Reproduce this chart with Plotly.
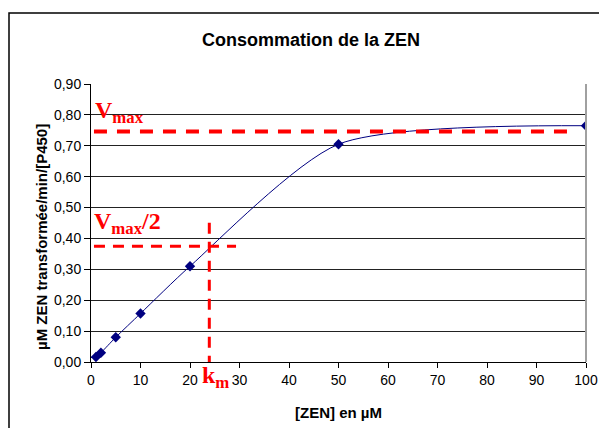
import plotly.graph_objects as go

# Data
zen_conc = [1, 2, 5, 10, 20, 50, 100]
rate = [0.016, 0.030, 0.080, 0.157, 0.310, 0.705, 0.765]

vmax = 0.746
vmax_half = 0.375
km = 23.9
vmax_x = [0.6, 97.6]
half_x = [0.6, 29.3]
km_y = [0.0, 0.451]

y_ticks = [0, 0.1, 0.2, 0.3, 0.4, 0.5, 0.6, 0.7, 0.8, 0.9]
x_ticks = [0, 10, 20, 30, 40, 50, 60, 70, 80, 90, 100]

W, H = 599, 428
L, R, T, B = 91, 13, 84, 66
pw, ph = W - L - R, H - T - B

def px(xp):
    return (xp - L) / pw

def py(yp):
    return (H - B - yp) / ph

fig = go.Figure()
fig.add_trace(go.Scatter(
    x=zen_conc, y=rate, mode="lines+markers",
    line=dict(color="#000080", width=1, shape="spline", smoothing=0.7),
    marker=dict(symbol="diamond", size=8, color="#000080"),
    showlegend=False, hoverinfo="skip"))

red = "#FF0000"
shapes = [
    dict(type="line", xref="x", yref="y", x0=vmax_x[0], x1=vmax_x[1], y0=vmax, y1=vmax,
         line=dict(color=red, width=4, dash="13px,10px")),
    dict(type="line", xref="x", yref="y", x0=half_x[0], x1=half_x[1], y0=vmax_half, y1=vmax_half,
         line=dict(color=red, width=3, dash="11px,8px")),
    dict(type="line", xref="x", yref="y", x0=km, x1=km, y0=km_y[1], y1=km_y[0],
         line=dict(color=red, width=3, dash="11px,8px")),
    # outer chart frame
    dict(type="rect", xref="paper", yref="paper", x0=px(9), x1=px(640), y0=py(470), y1=py(13),
         line=dict(color="black", width=1.5), fillcolor="rgba(0,0,0,0)", layer="below"),
]

serif = "Liberation Serif"
annotations = [
    dict(text="<b>V<sub>max</sub></b>", x=px(93), y=py(95), xref="paper", yref="paper",
         xanchor="left", yanchor="top", showarrow=False,
         font=dict(family=serif, size=24, color=red)),
    dict(text="<b>V<sub>max</sub>/2</b>", x=px(92), y=py(206), xref="paper", yref="paper",
         xanchor="left", yanchor="top", showarrow=False,
         font=dict(family=serif, size=24, color=red)),
    dict(text="<b>k<sub>m</sub></b>", x=px(200), y=py(360), xref="paper", yref="paper",
         xanchor="left", yanchor="top", showarrow=False,
         font=dict(family=serif, size=24, color=red)),
    dict(text="<b>µM ZEN transformée/min/[P450]</b>", x=px(41), y=py(237), xref="paper", yref="paper",
         xanchor="center", yanchor="middle", textangle=-90, showarrow=False,
         font=dict(size=15, color="black")),
]

fig.update_layout(
    width=W, height=H,
    margin=dict(l=L, r=R, t=T, b=B, pad=0, autoexpand=False),
    paper_bgcolor="white", plot_bgcolor="white",
    separators=", ",
    font=dict(family="Liberation Sans, Arial", size=14, color="black"),
    title=dict(text="<b>Consommation de la ZEN</b>", x=311 / W, xanchor="center",
               y=1 - 40 / H, yanchor="middle", font=dict(size=18, color="black")),
    shapes=shapes, annotations=annotations,
    showlegend=False,
)
fig.update_xaxes(
    range=[0, 100], tickvals=x_ticks, ticks="outside", ticklen=5, tickcolor="black",
    showline=True, linecolor="black", linewidth=1, mirror=False,
    showgrid=False, zeroline=False, automargin=False,
    title=dict(text="<b>[ZEN] en µM</b>", font=dict(size=15), standoff=20),
)
fig.update_yaxes(
    range=[0, 0.9], tickvals=y_ticks, tickformat=".2f", ticks="outside", ticklen=6, tickcolor="black",
    showline=True, linecolor="black", linewidth=1,
    showgrid=True, gridcolor="#222222", gridwidth=1, zeroline=False, automargin=False,
)
# right border of plot area (gray)
fig.add_shape(type="line", xref="paper", yref="paper", x0=1, x1=1, y0=0, y1=1,
              line=dict(color="#A0A0A0", width=2))

fig.write_html("out.html", config={"displayModeBar": False},
               post_script="document.body.style.margin='0px';document.body.style.overflow='hidden';")
